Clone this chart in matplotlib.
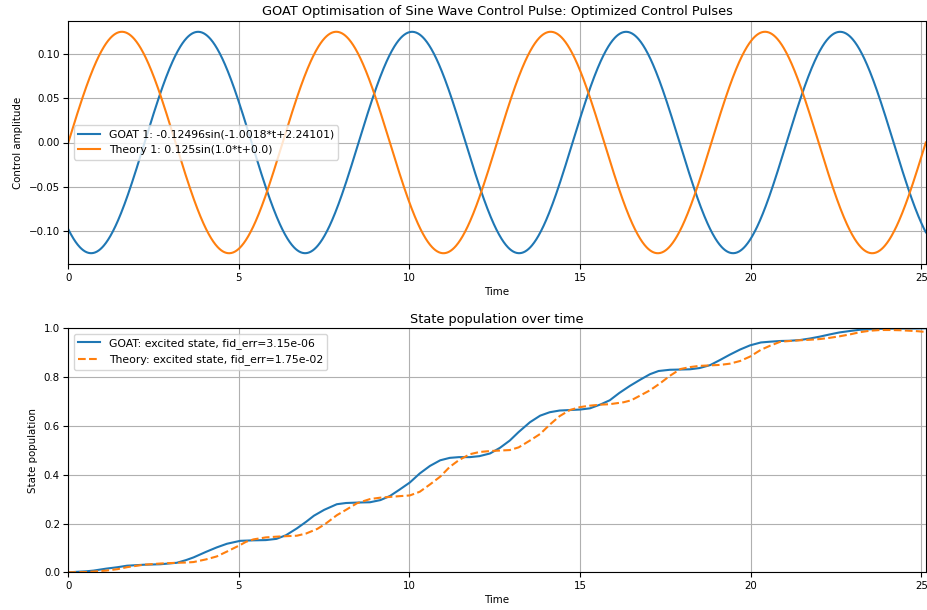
import numpy as np
import matplotlib
matplotlib.use("Agg")
import matplotlib.pyplot as plt

# ---- Data ----
T_END = 8 * np.pi
# Pulse parameters as given in the legend
goat_amp, goat_freq, goat_phase = -0.12496, -1.0018, 2.24101
theory_amp, theory_freq, theory_phase = 0.125, 1.0, 0.0

# State population
goat_t = [0.0, 0.52, 0.74, 1.11, 1.45, 1.72, 2.21, 2.70, 3.18, 3.45, 3.67, 4.04, 4.35,
          4.65, 5.04, 5.43, 5.79, 6.10, 6.38, 6.70, 6.97, 7.20, 7.50, 7.87, 8.14, 8.51,
          8.84, 9.15, 9.43, 9.70, 10.01, 10.30, 10.60, 10.90, 11.18, 11.45, 11.77,
          12.05, 12.36, 12.65, 12.94, 13.20, 13.53, 13.83, 14.11, 14.40, 14.70, 15.00,
          15.29, 15.60, 15.87, 16.15, 16.46, 16.77, 17.05, 17.30, 17.63, 17.94, 18.22,
          18.50, 18.81, 19.10, 19.39, 19.69, 19.98, 20.30, 20.56, 20.87, 21.15, 21.45,
          21.73, 22.03, 22.32, 22.60, 22.91, 23.20, 23.49, 23.80, 24.30, 24.80, 25.13]
goat_p = [0.000, 0.004, 0.007, 0.015, 0.021, 0.027, 0.031, 0.033, 0.039, 0.050, 0.061,
          0.084, 0.102, 0.117, 0.129, 0.131, 0.132, 0.137, 0.152, 0.180, 0.207, 0.232,
          0.256, 0.279, 0.284, 0.286, 0.287, 0.296, 0.313, 0.338, 0.368, 0.405, 0.436,
          0.459, 0.469, 0.472, 0.472, 0.476, 0.487, 0.510, 0.540, 0.575, 0.615, 0.642,
          0.656, 0.663, 0.665, 0.667, 0.672, 0.688, 0.705, 0.735, 0.764, 0.790, 0.812,
          0.825, 0.830, 0.831, 0.832, 0.837, 0.849, 0.870, 0.892, 0.913, 0.930, 0.942,
          0.945, 0.948, 0.949, 0.952, 0.958, 0.966, 0.975, 0.983, 0.989, 0.994, 0.996,
          0.998, 0.999, 0.999, 1.000]

theory_t = [0.0, 0.52, 0.74, 1.11, 1.45, 1.72, 2.21, 2.70, 3.18, 3.45, 3.67, 4.04, 4.35,
            4.65, 5.04, 5.21, 5.43, 5.79, 6.10, 6.38, 6.70, 6.97, 7.30, 7.55, 7.87, 8.14,
            8.46, 8.84, 9.15, 9.43, 9.70, 10.01, 10.30, 10.60, 10.90, 11.18, 11.45,
            11.77, 12.05, 12.36, 12.65, 12.94, 13.20, 13.53, 13.83, 14.11, 14.40, 14.70,
            15.00, 15.29, 15.60, 15.87, 16.28, 16.50, 16.77, 17.05, 17.35, 17.63, 17.94,
            18.22, 18.50, 18.81, 19.10, 19.39, 19.69, 19.98, 20.30, 20.56, 20.87, 21.15,
            21.45, 21.73, 22.03, 22.32, 22.60, 22.91, 23.20, 23.49, 23.80, 24.08, 24.40,
            24.66, 24.90, 25.13]
theory_p = [0.000, 0.001, 0.003, 0.007, 0.013, 0.021, 0.031, 0.036, 0.039, 0.040, 0.042,
            0.053, 0.065, 0.085, 0.112, 0.125, 0.135, 0.143, 0.146, 0.148, 0.150, 0.159,
            0.178, 0.200, 0.234, 0.256, 0.283, 0.300, 0.306, 0.309, 0.312, 0.315, 0.330,
            0.360, 0.392, 0.432, 0.460, 0.484, 0.493, 0.497, 0.499, 0.501, 0.512, 0.540,
            0.567, 0.605, 0.640, 0.665, 0.677, 0.683, 0.687, 0.689, 0.697, 0.705, 0.725,
            0.746, 0.775, 0.805, 0.833, 0.841, 0.846, 0.848, 0.850, 0.855, 0.866, 0.884,
            0.912, 0.928, 0.945, 0.948, 0.951, 0.953, 0.956, 0.961, 0.967, 0.975, 0.984,
            0.990, 0.993, 0.993, 0.992, 0.990, 0.988, 0.985]

goat_label = "GOAT 1: -0.12496sin(-1.0018*t+2.24101)"
theory_label = "Theory 1: 0.125sin(1.0*t+0.0)"
goat_pop_label = "GOAT: excited state, fid_err=3.15e-06"
theory_pop_label = "Theory: excited state, fid_err=1.75e-02"

# ---- Figure ----
W, H = 927, 610
fig = plt.figure(figsize=(W / 100, H / 100), dpi=100)

FS = 7.4
LFS = 7.85
TFS = 9.3

def px_axes(left, top, right, bottom):
    return fig.add_axes([left / W, 1 - bottom / H, (right - left) / W, (bottom - top) / H])

ax1 = px_axes(68.3, 20.7, 925.8, 264.3)
ax2 = px_axes(68.3, 328.3, 925.8, 572.3)

t = np.linspace(0, T_END, 2000)
ax1.plot(t, goat_amp * np.sin(goat_freq * t + goat_phase), color="#1f77b4", lw=1.5, label=goat_label)
ax1.plot(t, theory_amp * np.sin(theory_freq * t + theory_phase), color="#ff7f0e", lw=1.5, label=theory_label)
ax1.set_xlim(0, T_END)
ax1.set_ylim(-0.1375, 0.1375)
ax1.set_yticks([-0.10, -0.05, 0.0, 0.05, 0.10])
ax1.grid(True)
ax1.set_title("GOAT Optimisation of Sine Wave Control Pulse: Optimized Control Pulses", fontsize=TFS, pad=4)
ax1.set_xlabel("Time", fontsize=FS, labelpad=3)
ax1.set_ylabel("Control amplitude", fontsize=FS, labelpad=4)
ax1.legend(loc="center left", fontsize=LFS)

ax2.plot(goat_t, goat_p, color="#1f77b4", lw=1.5, label=goat_pop_label)
ax2.plot(theory_t, theory_p, color="#ff7f0e", lw=1.5, ls="--", label=theory_pop_label)
ax2.set_xlim(0, T_END)
ax2.set_ylim(0, 1.0)
ax2.set_yticks([0.0, 0.2, 0.4, 0.6, 0.8, 1.0])
ax2.grid(True)
ax2.set_title("State population over time", fontsize=TFS, pad=4)
ax2.set_xlabel("Time", fontsize=FS, labelpad=3)
ax2.set_ylabel("State population", fontsize=FS, labelpad=4)
ax2.legend(loc="upper left", fontsize=LFS)

for ax in (ax1, ax2):
    ax.tick_params(labelsize=FS, length=3.5, pad=2.5)
    ax.set_xticks([0, 5, 10, 15, 20, 25])

fig.savefig("out.png", dpi=100)
